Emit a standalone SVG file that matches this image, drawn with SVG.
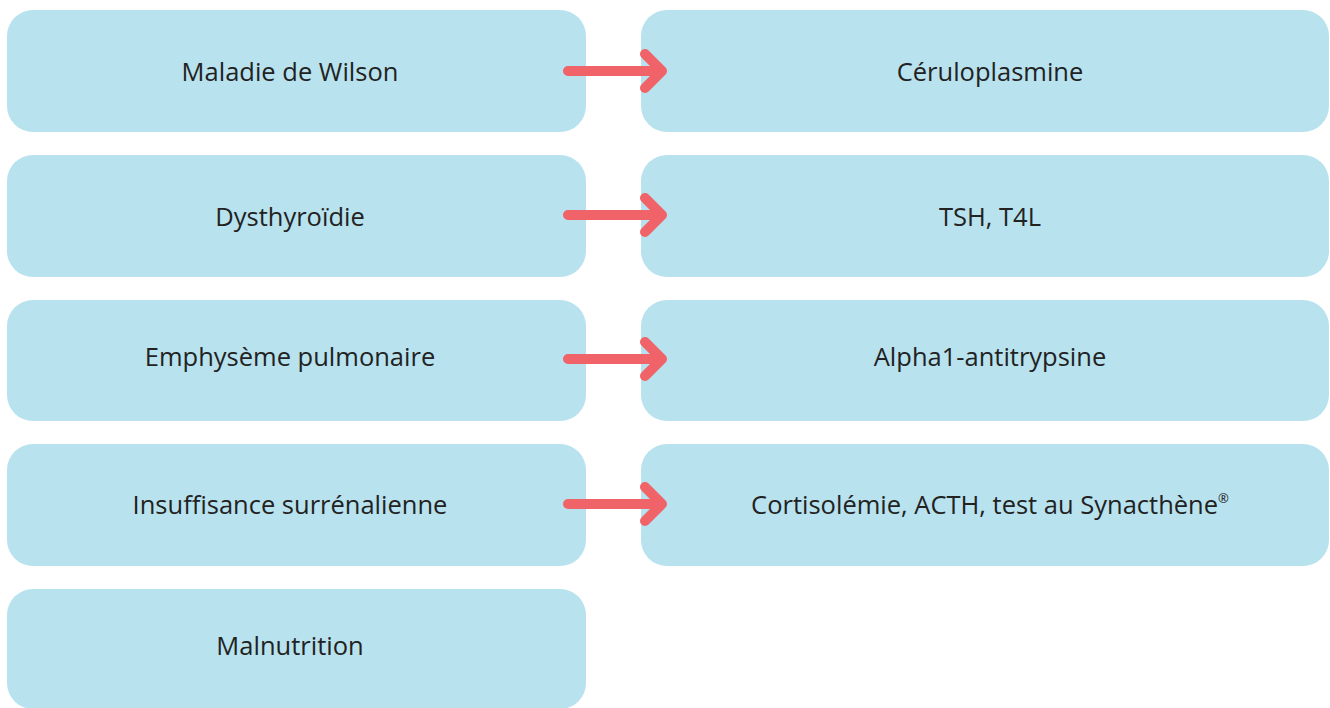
<svg xmlns="http://www.w3.org/2000/svg" width="1330" height="708" viewBox="0 0 1330 708">
<style>
.box{fill:#b8e2ee}
.t{font-family:"Open Sans","Liberation Sans",sans-serif;font-size:25.5px;fill:#222;text-anchor:middle;dominant-baseline:central}
.arr{fill:none;stroke:#f06368;stroke-width:10;stroke-linecap:round;stroke-linejoin:round}
</style>
<rect width="1330" height="708" fill="#fff"/>
<g id="n1"><rect class="box" x="7" y="10" width="579" height="122" rx="26"/><text class="t" x="290" y="71">Maladie de Wilson</text></g>
<g id="n2"><rect class="box" x="7" y="155" width="579" height="122" rx="26"/><text class="t" x="290" y="216">Dysthyroïdie</text></g>
<g id="n3"><rect class="box" x="7" y="300" width="579" height="121" rx="26"/><text class="t" x="290" y="356">Emphysème pulmonaire</text></g>
<g id="n4"><rect class="box" x="7" y="444" width="579" height="122" rx="26"/><text class="t" x="290" y="504">Insuffisance surrénalienne</text></g>
<g id="n5"><rect class="box" x="7" y="589" width="579" height="120" rx="26"/><text class="t" x="290" y="645">Malnutrition</text></g>
<g id="m1"><rect class="box" x="641" y="10" width="688" height="122" rx="26"/><text class="t" x="990" y="71">Céruloplasmine</text></g>
<g id="m2"><rect class="box" x="641" y="155" width="688" height="122" rx="26"/><text class="t" x="990" y="216">TSH, T4L</text></g>
<g id="m3"><rect class="box" x="641" y="300" width="688" height="121" rx="26"/><text class="t" x="990" y="356">Alpha1-antitrypsine</text></g>
<g id="m4"><rect class="box" x="641" y="444" width="688" height="122" rx="26"/><text class="t" x="990" y="504">Cortisolémie, ACTH, test au Synacthène<tspan font-size="13" dy="-6">®</tspan></text></g>
<g id="connectors">
<path class="arr" d="M568 71H662M645 54L662 71L645 88"/>
<path class="arr" d="M568 215H662M645 198L662 215L645 232"/>
<path class="arr" d="M568 359H662M645 342L662 359L645 376"/>
<path class="arr" d="M568 504H662M645 487L662 504L645 521"/>
</g>
</svg>
